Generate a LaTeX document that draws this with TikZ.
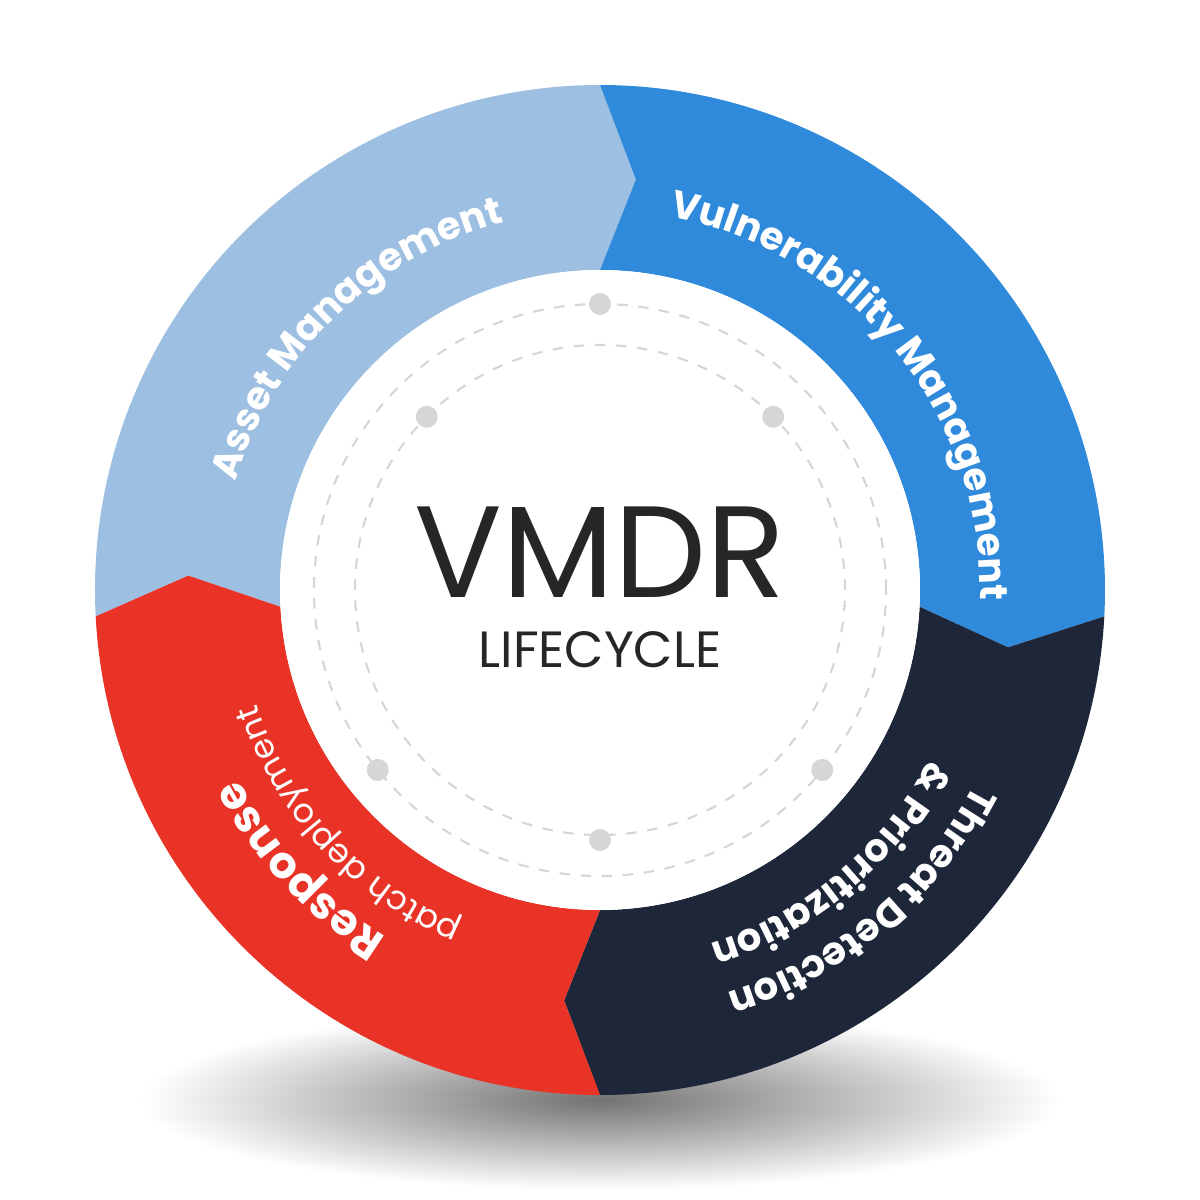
\documentclass[tikz,border=0pt]{standalone}
\usepackage{fontspec}
\setmainfont{Poppins}
\usetikzlibrary{decorations.text,shadings}
\definecolor{cA}{HTML}{9DC0E2}
\definecolor{cV}{HTML}{2F8ADC}
\definecolor{cT}{HTML}{1E2739}
\definecolor{cR}{HTML}{E83326}
\definecolor{dotc}{HTML}{D6D6D6}
\newcommand{\segm}[3]{%
  \fill[#3] (#1:5.05) arc[start angle=#1, end angle=#2, radius=5.05]
   -- ({#2-5}:4.12) -- (#2:3.2) arc[start angle=#2, end angle=#1, radius=3.2]
   -- ({#1-5}:4.12) -- cycle;}
\newcommand{\arclabel}[5]{%
  \path[decorate,decoration={text effects along path,text align=center,
    text={#4}, text effects/.cd, characters={text=white, font=#5, inner sep=0pt, transform shape, anchor=base}}]
   (#1:#3) arc[start angle=#1, end angle=#2, radius=#3];}
\begin{document}
\begin{tikzpicture}
\useasboundingbox (-6,-6.1) rectangle (6,5.9);
\fill[white] (-6,-6.1) rectangle (6,5.9);
\shade[inner color=black!55, outer color=white] (0,-5.1) ellipse[x radius=4.6, y radius=0.9];
\segm{183}{90}{cA}
\segm{90}{-3}{cV}
\segm{-3}{-90}{cT}
\segm{-90}{-177}{cR}
\fill[white] (0,0) circle[radius=3.2];
\draw[dotc, dashed, line width=0.6pt] (0,0) circle[radius=2.86];
\draw[dotc, dashed, line width=0.6pt] (0,0) circle[radius=2.45];
\foreach \a/\r in {90/2.86, 45/2.45, -39/2.86, -90/2.5, -141/2.86, 135/2.45}
  \fill[dotc] (\a:\r) circle[radius=0.11];
\node[font=\fontsize{37}{40}\selectfont, text=black!85] (t1) at (0,0.38) {VMDR};
\node[font=\fontsize{14.5}{16}\selectfont, text=black!85] (t2) at (0,-0.6) {LIFECYCLE};
\arclabel{178}{90}{3.8}{Asset Management}{\fontsize{11}{13}\selectfont\bfseries}
\arclabel{90}{-12}{3.8}{Vulnerability Management}{\fontsize{11}{13}\selectfont\bfseries}
\arclabel{-5}{-95}{4.22}{Threat Detection}{\fontsize{11}{13}\selectfont\bfseries}
\arclabel{-5}{-95}{3.7}{\& Prioritization}{\fontsize{11}{13}\selectfont\bfseries}
\arclabel{-95}{-179}{4.08}{Response}{\fontsize{12.5}{15}\selectfont\bfseries}
\arclabel{-95}{-179}{3.62}{patch deployment}{\fontsize{9.5}{12}\selectfont}
\end{tikzpicture}
\end{document}
